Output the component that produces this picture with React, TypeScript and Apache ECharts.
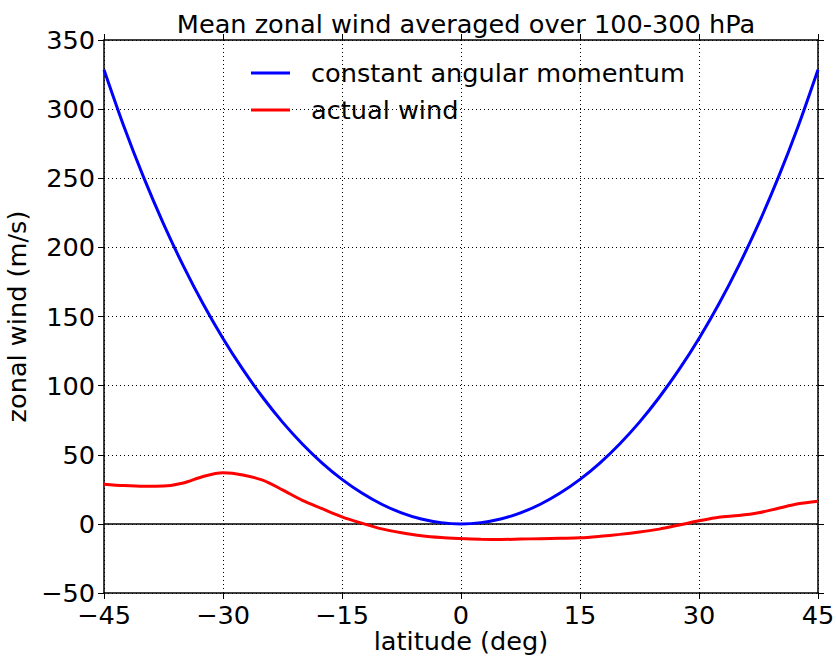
import React, { useEffect, useRef } from "react";
import * as echarts from "echarts";

// Constant angular momentum wind (m/s) every 2.5 degrees of latitude
const momentumLat = [
  -45, -42.5, -40, -37.5, -35, -32.5, -30, -27.5, -25, -22.5, -20, -17.5, -15,
  -12.5, -10, -7.5, -5, -2.5, 0, 2.5, 5, 7.5, 10, 12.5, 15, 17.5, 20, 22.5, 25,
  27.5, 30, 32.5, 35, 37.5, 40, 42.5, 45,
];
const momentumWind = [
  328.5, 287.6, 250.6, 217.0, 186.6, 159.0, 134.1, 111.7, 91.6, 73.6, 57.8, 44.0,
  32.2, 22.3, 14.2, 8.0, 3.5, 0.9, 0, 0.9, 3.5, 8.0, 14.2, 22.3, 32.2, 44.0, 57.8,
  73.6, 91.6, 111.7, 134.1, 159.0, 186.6, 217.0, 250.6, 287.6, 328.5,
];

// Observed zonal-mean wind (m/s)
const actualLat = [
  -45, -42.5, -40, -37.5, -35, -32.5, -30, -27.5, -25, -22.5, -20, -17.5, -15,
  -12.5, -10, -7.5, -5, -2.5, 0, 2.5, 5, 7.5, 10, 12.5, 15, 17.5, 20, 22.5, 25,
  27.5, 30, 32.5, 35, 37.5, 40, 42.5, 45,
];
const actualWind = [
  28.7, 27.7, 27.2, 27.4, 29.6, 34.3, 36.9, 35.4, 31.6, 24.6, 17.0, 11.0, 5.1,
  0.5, -3.6, -6.4, -8.6, -9.9, -10.6, -11.1, -11.3, -11.0, -10.7, -10.4, -10.1,
  -9.0, -7.6, -5.9, -3.8, -0.8, 2.2, 4.8, 6.0, 8.0, 11.3, 14.5, 16.4,
];

const seriesNames = ["constant angular momentum", "actual wind"];
const titleText = "Mean zonal wind averaged over 100-300 hPa";
const xName = "latitude (deg)";
const yName = "zonal wind (m/s)";

const FONT = "DejaVu Sans";
const FS = 25.6;
const minus = (v: number) => String(v).replace("-", "\u2212");

export default function App() {
  const ref = useRef<HTMLDivElement>(null);

  useEffect(() => {
    if (!ref.current) return;
    const chart = echarts.init(ref.current, undefined, { renderer: "svg" });

    const frameAxis = {
      axisLine: { show: true, onZero: false, lineStyle: { color: "#000", width: 1.5 } },
      axisTick: { show: true, length: 6, lineStyle: { color: "#000", width: 1 } },
    };

    chart.setOption({
      animation: false,
      backgroundColor: "#fff",
      textStyle: { fontFamily: FONT },
      title: {
        text: titleText,
        left: 461,
        top: 6,
        textAlign: "center",
        textStyle: { fontFamily: FONT, fontSize: FS, fontWeight: "normal", color: "#000" },
      },
      legend: {
        orient: "vertical",
        left: 246,
        top: 55,
        itemWidth: 39,
        itemHeight: 3,
        itemGap: 11,
        icon: "rect",
        data: seriesNames,
        textStyle: { fontFamily: FONT, fontSize: FS, color: "#000", padding: [0, 0, 0, 16] },
      },
      grid: {
        left: 104,
        right: 18,
        top: 40,
        bottom: 64,
        containLabel: false,
        outerBoundsMode: "none",
      },
      xAxis: [
        {
          type: "value",
          min: -45,
          max: 45,
          interval: 15,
          position: "bottom",
          name: xName,
          nameLocation: "middle",
          nameGap: 35,
          nameMoveOverlap: false,
          nameTextStyle: { fontFamily: FONT, fontSize: FS, color: "#000" },
          ...frameAxis,
          axisLabel: {
            fontFamily: FONT,
            fontSize: FS,
            color: "#000",
            margin: 9,
            formatter: (v: number) => minus(v),
          },
          splitLine: { show: true, lineStyle: { color: "#000", width: 1, type: [1, 3] } },
        },
        {
          type: "value",
          min: -45,
          max: 45,
          interval: 15,
          position: "top",
          ...frameAxis,
          axisLabel: { show: false },
          splitLine: { show: false },
        },
      ],
      yAxis: [
        {
          type: "value",
          min: -50,
          max: 350,
          interval: 50,
          position: "left",
          name: yName,
          nameLocation: "middle",
          nameGap: 70,
          nameTextStyle: { fontFamily: FONT, fontSize: FS, color: "#000" },
          ...frameAxis,
          axisLabel: {
            fontFamily: FONT,
            fontSize: FS,
            color: "#000",
            margin: 9,
            formatter: (v: number) => minus(v),
          },
          splitLine: { show: true, lineStyle: { color: "#000", width: 1, type: [1, 3] } },
        },
        {
          type: "value",
          min: -50,
          max: 350,
          interval: 50,
          position: "right",
          ...frameAxis,
          axisLabel: { show: false },
          splitLine: { show: false },
        },
      ],
      series: [
        {
          name: seriesNames[0],
          type: "line",
          data: momentumLat.map((x, i) => [x, momentumWind[i]]),
          smooth: 0.3,
          showSymbol: false,
          symbol: "none",
          color: "#0000ff",
          lineStyle: { color: "#0000ff", width: 3 },
          z: 3,
          markLine: {
            silent: true,
            symbol: "none",
            label: { show: false },
            lineStyle: { color: "#000", width: 1.5, type: "solid" },
            data: [{ yAxis: 0 }],
            z: 2,
          },
        },
        {
          name: seriesNames[1],
          type: "line",
          data: actualLat.map((x, i) => [x, actualWind[i]]),
          smooth: 0.3,
          showSymbol: false,
          symbol: "none",
          color: "#ff0000",
          lineStyle: { color: "#ff0000", width: 3 },
          z: 4,
        },
      ],
    });

    return () => chart.dispose();
  }, []);

  return (
    <div
      ref={ref}
      style={{ position: "fixed", left: 0, top: 0, width: 836, height: 657, background: "#fff" }}
    />
  );
}
